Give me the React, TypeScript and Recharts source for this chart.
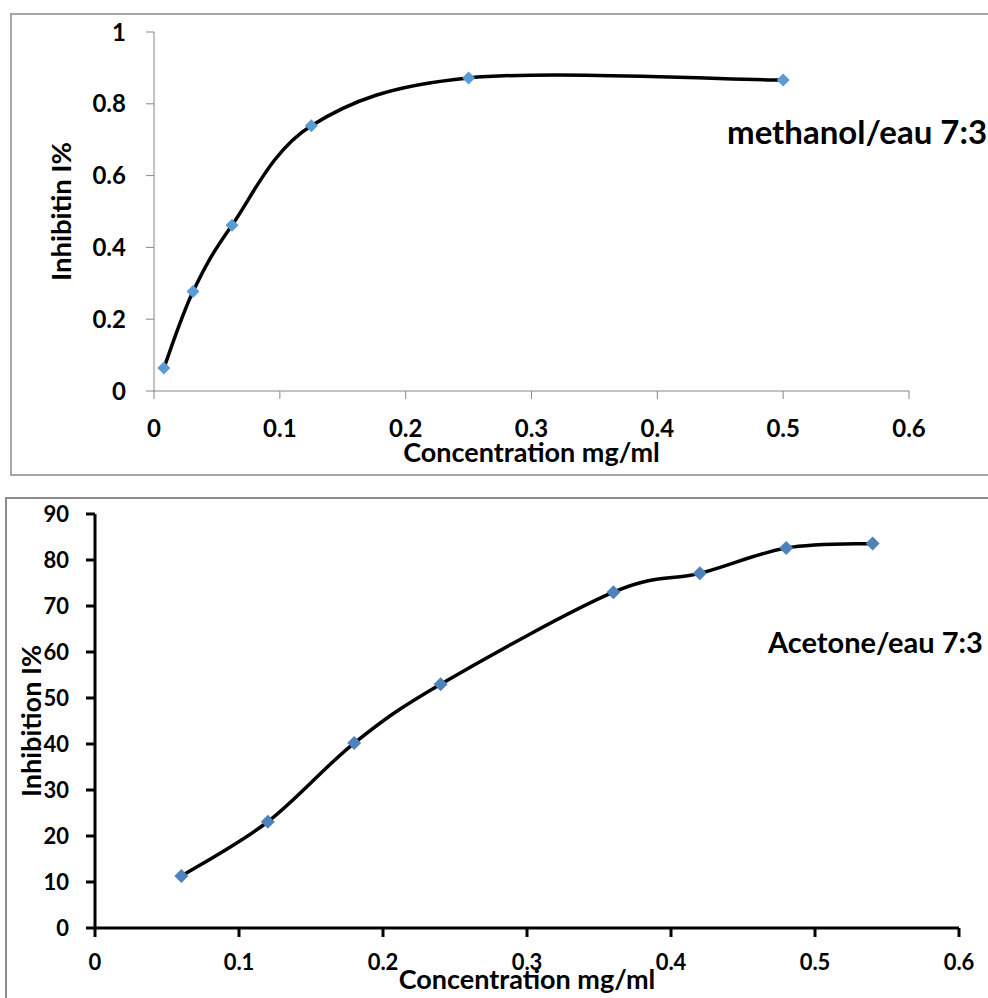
import React from "react";
import { LineChart, Line, XAxis, YAxis } from "recharts";

// methanol/eau 7:3 extract
const concMethanol = [0.0078, 0.031, 0.062, 0.125, 0.25, 0.5];
const inhMethanol = [0.064, 0.277, 0.462, 0.739, 0.872, 0.866];
const xTicksTop = [0, 0.1, 0.2, 0.3, 0.4, 0.5, 0.6];
const yTicksTop = [0, 0.2, 0.4, 0.6, 0.8, 1];

// Acetone/eau 7:3 extract
const concAcetone = [0.06, 0.12, 0.18, 0.24, 0.36, 0.42, 0.48, 0.54];
const inhAcetone = [11.3, 23.1, 40.2, 53.0, 73.0, 77.1, 82.6, 83.6];
const xTicksBottom = [0, 0.1, 0.2, 0.3, 0.4, 0.5, 0.6];
const yTicksBottom = [0, 10, 20, 30, 40, 50, 60, 70, 80, 90];

const methanolData = concMethanol.map((c, i) => ({ conc: c, inh: inhMethanol[i] }));
const acetoneData = concAcetone.map((c, i) => ({ conc: c, inh: inhAcetone[i] }));

const FONT = "Lato, 'Open Sans', sans-serif";

// Excel-like smoothed line (cardinal spline, tension 0)
function excelSmooth(context: any) {
  let pts: number[][] = [];
  return {
    areaStart() {},
    areaEnd() {},
    lineStart() {
      pts = [];
    },
    point(x: number, y: number) {
      pts.push([+x, +y]);
    },
    lineEnd() {
      const n = pts.length;
      if (!n) return;
      context.moveTo(pts[0][0], pts[0][1]);
      for (let i = 0; i < n - 1; i++) {
        const p0 = pts[i === 0 ? 0 : i - 1];
        const p1 = pts[i];
        const p2 = pts[i + 1];
        const p3 = pts[i + 2 < n ? i + 2 : n - 1];
        context.bezierCurveTo(
          p1[0] + (p2[0] - p0[0]) / 6,
          p1[1] + (p2[1] - p0[1]) / 6,
          p2[0] - (p3[0] - p1[0]) / 6,
          p2[1] - (p3[1] - p1[1]) / 6,
          p2[0],
          p2[1]
        );
      }
    },
  };
}

const diamond = (color: string, r: number) => (props: any) => {
  const { cx, cy, index } = props;
  if (cx == null || cy == null) return <g key={index} />;
  return (
    <polygon
      key={index}
      points={`${cx},${cy - r} ${cx + r},${cy} ${cx},${cy + r} ${cx - r},${cy}`}
      fill={color}
    />
  );
};

export default function App() {
  const tickTop = { fontSize: 24, fontWeight: 700, fill: "#000", fontFamily: FONT };
  const tickBottom = { fontSize: 22, fontWeight: 700, fill: "#000", fontFamily: FONT };
  const titleStyle = { fontFamily: FONT, fontWeight: 700, fill: "#000", textAnchor: "middle" as const };

  return (
    <div
      style={{
        position: "absolute",
        left: 0,
        top: 0,
        width: 988,
        height: 998,
        overflow: "hidden",
        background: "#fff",
        fontFamily: FONT,
      }}
    >
      {/* chart frames */}
      <div style={{ position: "absolute", left: 10, top: 13, width: 1000, height: 459, border: "2px solid #a6a6a6" }} />
      <div style={{ position: "absolute", left: 5, top: 497, width: 1000, height: 520, border: "2px solid #8c8c8c" }} />

      <div style={{ position: "absolute", left: 0, top: 0 }}>
        <LineChart width={988} height={480} data={methanolData} margin={{ top: 32, right: 79, bottom: 17, left: 0 }}>
          <XAxis
            dataKey="conc"
            type="number"
            domain={[0, 0.6]}
            ticks={xTicksTop}
            height={72}
            stroke="#868686"
            tickSize={8}
            tickMargin={21}
            tick={tickTop}
            label={{ value: "Concentration mg/ml", position: "insideBottom", offset: 1, fontSize: 27, style: titleStyle }}
          />
          <YAxis
            type="number"
            domain={[0, 1]}
            ticks={yTicksTop}
            width={154}
            stroke="#868686"
            tickSize={8}
            tickMargin={20}
            tick={tickTop}
            label={{ value: "Inhibitin I%", angle: -90, position: "insideLeft", offset: 61, fontSize: 27.5, style: titleStyle }}
          />
          <Line
            dataKey="inh"
            type={excelSmooth as any}
            stroke="#000"
            strokeWidth={3.5}
            dot={diamond("#5B9BD5", 6.5)}
            activeDot={false}
            isAnimationActive={false}
          />
        </LineChart>
      </div>
      <div
        style={{
          position: "absolute",
          left: 727,
          top: 115,
          fontSize: 33,
          lineHeight: 1,
          fontWeight: 700,
          whiteSpace: "nowrap",
          color: "#000",
        }}
      >
        methanol/eau 7:3
      </div>

      <div style={{ position: "absolute", left: 0, top: 480 }}>
        <LineChart width={988} height={518} data={acetoneData} margin={{ top: 34, right: 29, bottom: 4, left: 0 }}>
          <XAxis
            dataKey="conc"
            type="number"
            domain={[0, 0.6]}
            ticks={xTicksBottom}
            height={66}
            stroke="#000"
            strokeWidth={3}
            tickSize={9}
            tickMargin={17}
            tick={tickBottom}
            label={{ value: "Concentration mg/ml", position: "insideBottom", offset: 5, fontSize: 27, style: titleStyle }}
          />
          <YAxis
            type="number"
            domain={[0, 90]}
            ticks={yTicksBottom}
            width={95}
            stroke="#000"
            strokeWidth={3}
            tickSize={9}
            tickMargin={17}
            tick={tickBottom}
            label={{ value: "Inhibition I%", angle: -90, position: "insideLeft", offset: 31, fontSize: 27, style: titleStyle }}
          />
          <Line
            dataKey="inh"
            type={excelSmooth as any}
            stroke="#000"
            strokeWidth={3.5}
            dot={diamond("#4F81BD", 7)}
            activeDot={false}
            isAnimationActive={false}
          />
        </LineChart>
      </div>
      <div
        style={{
          position: "absolute",
          left: 768,
          top: 627,
          fontSize: 29,
          lineHeight: 1,
          fontWeight: 700,
          whiteSpace: "nowrap",
          color: "#000",
        }}
      >
        Acetone/eau 7:3
      </div>
    </div>
  );
}
